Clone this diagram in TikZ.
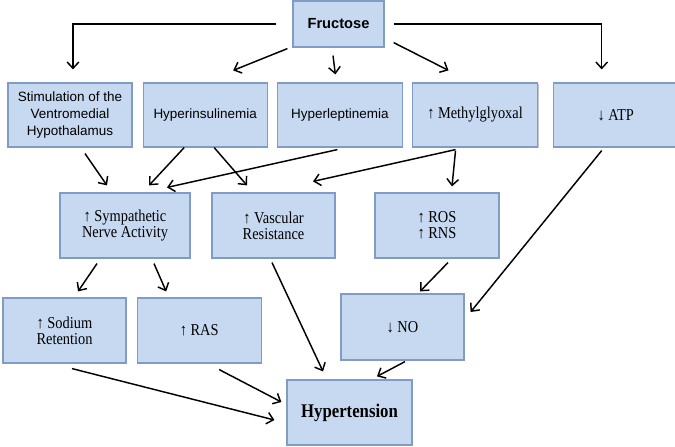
\documentclass[tikz,border=0pt]{standalone}
\usepackage{fontspec}
\setmainfont{Liberation Serif}[FakeStretch=0.865]
\newfontfamily\boxsans{Liberation Sans}
\usetikzlibrary{positioning,arrows.meta,shadows}
\definecolor{boxfill}{RGB}{198,217,241}
\definecolor{boxline}{RGB}{128,156,196}
\tikzset{
    box/.style={draw=boxline, line width=1pt, fill=boxfill, align=center, inner sep=2pt,
        drop shadow={shadow xshift=0.9pt, shadow yshift=-0.9pt, opacity=0.45},
        minimum width=3.72cm, minimum height=1.95cm,
        font=\fontsize{14.2}{13.8}\selectfont}, % serif boxes
    sansbox/.style={box, font=\boxsans\fontsize{11.5}{14.5}\selectfont}, % sans boxes
    arr/.style={-{Straight Barb[length=1.9mm,width=3.5mm]}, line width=1.25pt}, % connectors
}

\begin{document}
\begin{tikzpicture}[x=0.03cm,y=-0.03cm]
  \useasboundingbox (0,0) rectangle (675,446);

  % top
  \node[sansbox, minimum width=2.73cm, minimum height=1.38cm,
      font=\boxsans\bfseries\fontsize{12.5}{14.5}\selectfont] (fru) at (338.5,24) {Fructose};

  % first row
  \node[sansbox, minimum height=1.92cm] (vmh) at (70,115)
      {Stimulation of the\\Ventromedial\\Hypothalamus};
  \node[sansbox, minimum height=1.92cm] (hins) [right=0.3cm of vmh]  {Hyperinsulinemia};
  \node[sansbox, minimum height=1.92cm, minimum width=3.75cm] (hlep) [right=0.27cm of hins] {Hyperleptinemia};
  \node[box, minimum height=1.92cm, minimum width=3.75cm] (mgo) [right=0.27cm of hlep] {↑ Methylglyoxal};
  \node[box, minimum height=1.92cm] (atp) [right=0.45cm of mgo] {↓ ATP};

  % second row
  \node[box, minimum width=3.9cm] (sna) at (125,225.5) {↑ Sympathetic\\Nerve Activity};
  \node[box, minimum width=3.69cm] (vr) at (273.5,225.5) {↑ Vascular\\Resistance};
  \node[box] (ros) at (437,225.5) {↑ ROS\\↑ RNS};

  % third row
  \node[box, minimum width=3.69cm] (na) at (64.5,330.5) {↑ Sodium\\Retention};
  \node[box] (ras) [right=0.3cm of na] {↑ RAS};
  \node[box, minimum width=3.69cm, minimum height=1.98cm] (no) at (402.5,327) {↓ NO};

  \node[box, minimum width=3.75cm, font=\bfseries\fontsize{16.5}{18}\selectfont] (ht) at (349.5,412.5) {Hypertension};

  \draw[arr] ([shift={(-16,0)}]fru.west) -| ([shift={(3,-13)}]vmh.north);
  \draw[arr] ([shift={(9,0)}]fru.east) -| ([shift={(-14,-13)}]atp.north);
  \path[arr]
    ([shift={(-5,1)}]fru.south west) edge ([shift={(28,-12)}]hins.north)
    ([shift={(-5.5,8)}]fru.south) edge ([shift={(-4.5,-8)}]hlep.north)
    ([shift={(9,-5)}]fru.south east) edge ([shift={(-26.5,-12)}]mgo.north)
    ([shift={(15,6)}]vmh.south) edge ([shift={(-18,-7)}]sna.north)
    ([shift={(-21,0)}]hins.south) edge ([shift={(24,-7)}]sna.north)
    ([shift={(9,0)}]hins.south) edge ([shift={(-26.5,-7)}]vr.north)
    ([shift={(-2.5,2)}]hlep.south) edge ([shift={(42,-5)}]sna.north)
    ([shift={(-19.5,2)}]mgo.south) edge ([shift={(39.5,-11)}]vr.north)
    ([shift={(-19.5,3)}]mgo.south) edge ([shift={(15,-6)}]ros.north)
    ([shift={(-14,3)}]atp.south) edge ([shift={(6,-15)}]no.east)
    ([shift={(-28,5)}]sna.south) edge ([shift={(13.5,-6)}]na.north)
    ([shift={(29,5)}]sna.south) edge ([shift={(-33,-6)}]ras.north)
    ([shift={(-1.5,4)}]vr.south) edge ([shift={(-26.5,-8)}]ht.north)
    ([shift={(11,4)}]ros.south) edge ([shift={(17.5,-2)}]no.north)
    ([shift={(2.5,1)}]no.south) edge ([shift={(27.5,-3)}]ht.north)
    ([shift={(7.5,5)}]na.south) edge ([shift={(-12,7.5)}]ht.west)
    ([shift={(20,6)}]ras.south) edge ([shift={(-5,-10.5)}]ht.west);
\end{tikzpicture}
\end{document}
